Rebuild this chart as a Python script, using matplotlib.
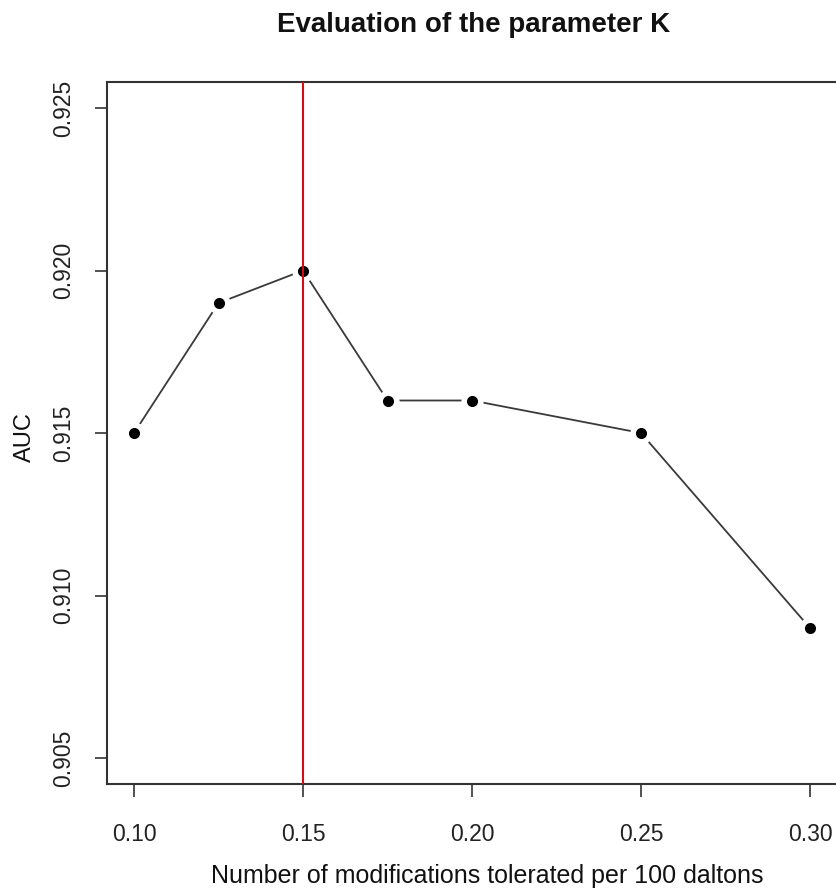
import matplotlib
matplotlib.use("Agg")
import matplotlib.pyplot as plt

# K values tested and resulting AUC
k_values = [0.10, 0.125, 0.15, 0.175, 0.20, 0.25, 0.30]
auc_values = [0.915, 0.919, 0.920, 0.916, 0.916, 0.915, 0.909]
best_k = 0.15

x_ticks = [0.10, 0.15, 0.20, 0.25, 0.30]
x_tick_labels = ["0.10", "0.15", "0.20", "0.25", "0.30"]
y_ticks = [0.905, 0.910, 0.915, 0.920, 0.925]
y_tick_labels = ["0.905", "0.910", "0.915", "0.920", "0.925"]

plt.rcParams['font.family'] = ['Liberation Sans', 'DejaVu Sans']

W, H = 836, 888
fig = plt.figure(figsize=(W / 100, H / 100), dpi=100)
ax = fig.add_axes([107 / W, 1 - 784 / H, 730 / W, 702 / H])

# R style: 4% padding around range
ax.set_xlim(0.10 - 0.008, 0.30 + 0.008)
ax.set_ylim(0.905 - 0.0008, 0.925 + 0.0008)

# type="b": line with gaps around points
ax.plot(k_values, auc_values, color='#3a3a3a', linewidth=1.3, zorder=2)
ax.plot(k_values, auc_values, linestyle='none', marker='o', markersize=8,
        markerfacecolor='black', markeredgecolor='white', markeredgewidth=8,
        zorder=3)
ax.plot(k_values, auc_values, linestyle='none', marker='o', markersize=8,
        markerfacecolor='black', markeredgecolor='black', markeredgewidth=0,
        zorder=4)
ax.axvline(best_k, color='#d01010', linewidth=1.5, zorder=5)

ax.set_xticks(x_ticks)
ax.set_xticklabels(x_tick_labels)
ax.set_yticks(y_ticks)
ax.set_yticklabels(y_tick_labels, rotation=90, va='center')

ax.tick_params(axis='both', direction='out', length=9, width=1.1,
               labelsize=16.5, color='#222222', labelcolor='#222222')
ax.tick_params(axis='x', pad=19)
ax.tick_params(axis='y', pad=14)

for sp in ax.spines.values():
    sp.set_linewidth(1.5)
    sp.set_color('#333333')
ax.spines['right'].set_visible(False)

fig.text(474 / W, 1 - 25 / H, "Evaluation of the parameter K", ha='center',
         va='center', fontsize=20, fontweight='bold', color='#111111')
fig.text(487 / W, 1 - 876 / H, "Number of modifications tolerated per 100 daltons",
         ha='center', va='center', fontsize=18, color='#111111')
fig.text(25 / W, 1 - 437 / H, "AUC", ha='center', va='center', rotation=90,
         fontsize=17, color='#111111')

fig.savefig("out.png", dpi=100)
